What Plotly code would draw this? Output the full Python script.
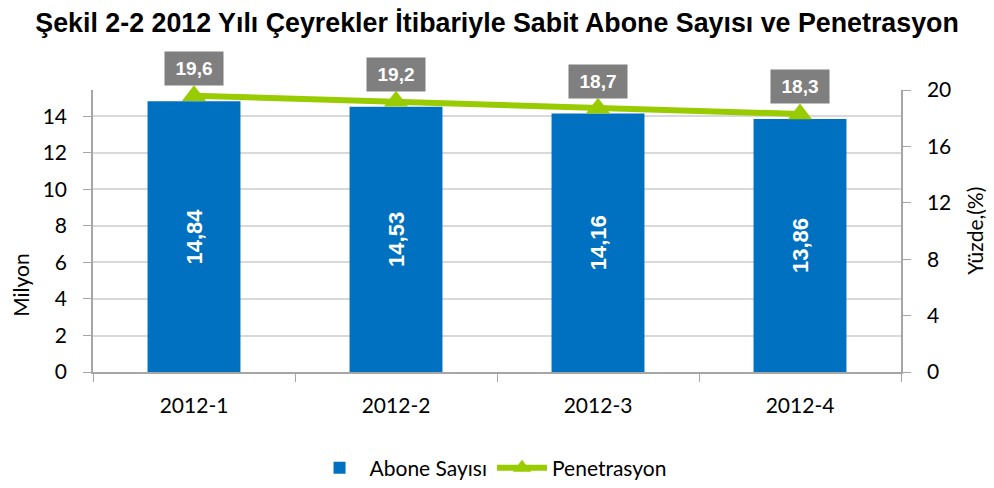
import plotly.graph_objects as go

categories = ["2012-1", "2012-2", "2012-3", "2012-4"]
abone = [14.84, 14.53, 14.16, 13.86]
abone_labels = ["14,84", "14,53", "14,16", "13,86"]
penetrasyon = [19.6, 19.2, 18.7, 18.3]
pen_labels = ["19,6", "19,2", "18,7", "18,3"]
left_ticks = [0, 2, 4, 6, 8, 10, 12, 14]
right_ticks = [0, 4, 8, 12, 16, 20]

BLUE = "#0070C0"
GREEN = "#99CC00"
GRAY = "#A6A6A6"
FONT = "Lato, Carlito, 'Open Sans', sans-serif"
LEFT_RANGE = [0, 15.45]
RIGHT_RANGE = [0, 20]

fig = go.Figure()
fig.add_trace(go.Bar(
    x=categories, y=abone, name="Abone Sayısı",
    marker=dict(color=BLUE, line=dict(width=0)),
    width=0.46,
    text=["<b>" + t + "</b>" for t in abone_labels],
    textposition="inside", insidetextanchor="middle",
    textangle=-90,
    textfont=dict(color="white", size=22, family="Liberation Sans, Arial"),
    cliponaxis=False,
))
fig.add_trace(go.Scatter(
    x=categories, y=penetrasyon, name="Penetrasyon", yaxis="y2",
    mode="lines+markers",
    line=dict(color=GREEN, width=6),
    marker=dict(symbol="triangle-up", size=21, color=GREEN),
    cliponaxis=False,
))

for c, v, t in zip(categories, penetrasyon, pen_labels):
    fig.add_annotation(
        x=c, y=v, xref="x", yref="y2", text="<b>" + t + "</b>",
        showarrow=False, yshift=27, width=50, height=25, align="center",
        bgcolor="#7F7F7F", borderpad=4,
        font=dict(color="white", size=19, family="Liberation Sans, Arial"),
    )

# axis titles
fig.add_annotation(text="Milyon", xref="paper", yref="paper", x=-0.09, y=0.31,
                   xanchor="center", yanchor="middle", textangle=-90,
                   showarrow=False, font=dict(size=21))
fig.add_annotation(text="Yüzde,(%)", xref="paper", yref="paper", x=1.09, y=0.5,
                   xanchor="center", yanchor="middle", textangle=-90,
                   showarrow=False, font=dict(size=21))

fig.update_layout(
    width=994, height=488,
    margin=dict(l=85, r=101, t=82, b=124, autoexpand=False),
    paper_bgcolor="white", plot_bgcolor="white",
    title=dict(
        text="<b>Şekil 2-2 2012 Yılı Çeyrekler İtibariyle Sabit Abone Sayısı ve Penetrasyon</b>",
        x=0.492, xanchor="center", y=0.971, yanchor="middle",
        font=dict(family="Liberation Sans, Arial", size=26.8, color="black"),
    ),
    font=dict(family=FONT, size=21, color="black"),
    showlegend=True,
    legend=dict(orientation="h", x=0.492, xanchor="center", y=-0.268, yanchor="top",
                font=dict(size=21), tracegroupgap=0, itemwidth=50),
    xaxis=dict(
        type="category", showline=True, linecolor=GRAY, linewidth=1.5,
        ticks="outside", tickson="boundaries", ticklen=8, tickcolor=GRAY,
        tickfont=dict(size=21), showgrid=False, automargin=False,
        ticklabelstandoff=14,
    ),
    xaxis2=dict(
        type="category", overlaying="x", side="bottom", showline=False,
        ticks="inside", tickson="boundaries", ticklen=8, tickcolor=GRAY,
        showticklabels=False, showgrid=False, automargin=False,
        categoryarray=categories, categoryorder="array",
        range=[-0.5, len(categories) - 0.5],
    ),
    yaxis=dict(
        range=LEFT_RANGE, tickvals=left_ticks, ticks="outside", ticklen=8,
        tickcolor=GRAY, showline=True, linecolor=GRAY, linewidth=1.5,
        showgrid=True, gridcolor="#D9D9D9", gridwidth=1.5, zeroline=False,
        tickfont=dict(size=21), automargin=False, ticklabelstandoff=12,
    ),
    yaxis2=dict(
        range=RIGHT_RANGE, tickvals=right_ticks, overlaying="y", side="right",
        ticks="outside", ticklen=8, tickcolor=GRAY, showline=True,
        linecolor=GRAY, linewidth=1.5, showgrid=False, zeroline=False,
        tickfont=dict(size=21), automargin=False, ticklabelstandoff=12,
    ),
    yaxis3=dict(
        range=LEFT_RANGE, tickvals=left_ticks, overlaying="y", side="left",
        ticks="inside", ticklen=5, tickcolor=GRAY, showline=False,
        showticklabels=False, showgrid=False, zeroline=False, automargin=False,
    ),
    yaxis4=dict(
        range=RIGHT_RANGE, tickvals=right_ticks, overlaying="y", side="right",
        ticks="inside", ticklen=5, tickcolor=GRAY, showline=False,
        showticklabels=False, showgrid=False, zeroline=False, automargin=False,
    ),
)

fig.write_html("out.html")
